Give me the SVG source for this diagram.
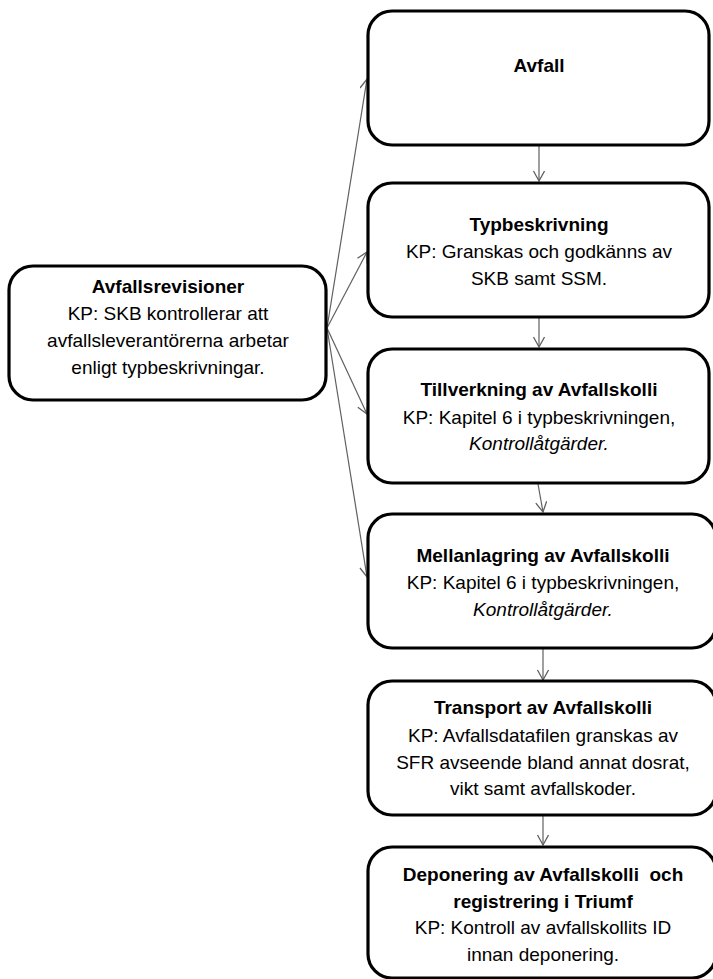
<svg xmlns="http://www.w3.org/2000/svg" width="713" height="979" viewBox="0 0 713 979">
<style>
.box{fill:#fff;stroke:#000;stroke-width:3.2}
text{font-family:"Liberation Sans",Arial,sans-serif;font-size:19px;fill:#000;text-anchor:middle}
.b{font-weight:bold}
.i{font-style:italic}
.c{fill:none;stroke:#606060;stroke-width:1.2}
</style>
<defs>
<marker id="ah" markerUnits="userSpaceOnUse" markerWidth="14" markerHeight="14" refX="11" refY="6" orient="auto">
<path d="M1,0.5 L11,6 L1,11.5" fill="none" stroke="#606060" stroke-width="1.3"/>
</marker>
</defs>
<g id="connectors">
<line class="c" x1="539" y1="146" x2="539" y2="181" marker-end="url(#ah)"/>
<line class="c" x1="539" y1="318" x2="539" y2="347" marker-end="url(#ah)"/>
<line class="c" x1="538" y1="484" x2="543" y2="512" marker-end="url(#ah)"/>
<line class="c" x1="543" y1="649" x2="543" y2="680" marker-end="url(#ah)"/>
<line class="c" x1="543" y1="816" x2="543" y2="845" marker-end="url(#ah)"/>
<line class="c" x1="327" y1="328" x2="367" y2="79" marker-end="url(#ah)"/>
<line class="c" x1="327" y1="328" x2="367" y2="252" marker-end="url(#ah)"/>
<line class="c" x1="327" y1="328" x2="367" y2="414" marker-end="url(#ah)"/>
<line class="c" x1="327" y1="328" x2="367" y2="577" marker-end="url(#ah)"/>
</g>
<g id="avfallsrevisioner">
<rect class="box" x="9" y="266" width="317" height="134" rx="24"/>
<text x="168" y="293" class="b">Avfallsrevisioner</text>
<text x="168" y="320">KP: SKB kontrollerar att</text>
<text x="168" y="347">avfallsleverantörerna arbetar</text>
<text x="168" y="374">enligt typbeskrivningar.</text>
</g>
<g id="avfall">
<rect class="box" x="368" y="11" width="341" height="134" rx="24"/>
<text x="539" y="72" class="b">Avfall</text>
</g>
<g id="typbeskrivning">
<rect class="box" x="368" y="183" width="341" height="134" rx="24"/>
<text x="539" y="231" class="b">Typbeskrivning</text>
<text x="539" y="258">KP: Granskas och godkänns av</text>
<text x="539" y="285">SKB samt SSM.</text>
</g>
<g id="tillverkning">
<rect class="box" x="368" y="349" width="341" height="134" rx="24"/>
<text x="539" y="396" class="b">Tillverkning av Avfallskolli</text>
<text x="539" y="424">KP: Kapitel 6 i typbeskrivningen,</text>
<text x="539" y="450" class="i">Kontrollåtgärder.</text>
</g>
<g id="mellanlagring">
<rect class="box" x="368" y="514" width="348" height="134" rx="24"/>
<text x="543" y="562" class="b">Mellanlagring av Avfallskolli</text>
<text x="543" y="589">KP: Kapitel 6 i typbeskrivningen,</text>
<text x="543" y="616" class="i">Kontrollåtgärder.</text>
</g>
<g id="transport">
<rect class="box" x="368" y="681" width="348" height="134" rx="24"/>
<text x="543" y="714" class="b">Transport av Avfallskolli</text>
<text x="543" y="742">KP: Avfallsdatafilen granskas av</text>
<text x="543" y="769">SFR avseende bland annat dosrat,</text>
<text x="543" y="795">vikt samt avfallskoder.</text>
</g>
<g id="deponering">
<rect class="box" x="368" y="847" width="348" height="131" rx="24"/>
<text x="543" y="881" class="b" xml:space="preserve">Deponering av Avfallskolli  och</text>
<text x="543" y="908" class="b">registrering i Triumf</text>
<text x="543" y="934">KP: Kontroll av avfallskollits ID</text>
<text x="543" y="961">innan deponering.</text>
</g>
</svg>
